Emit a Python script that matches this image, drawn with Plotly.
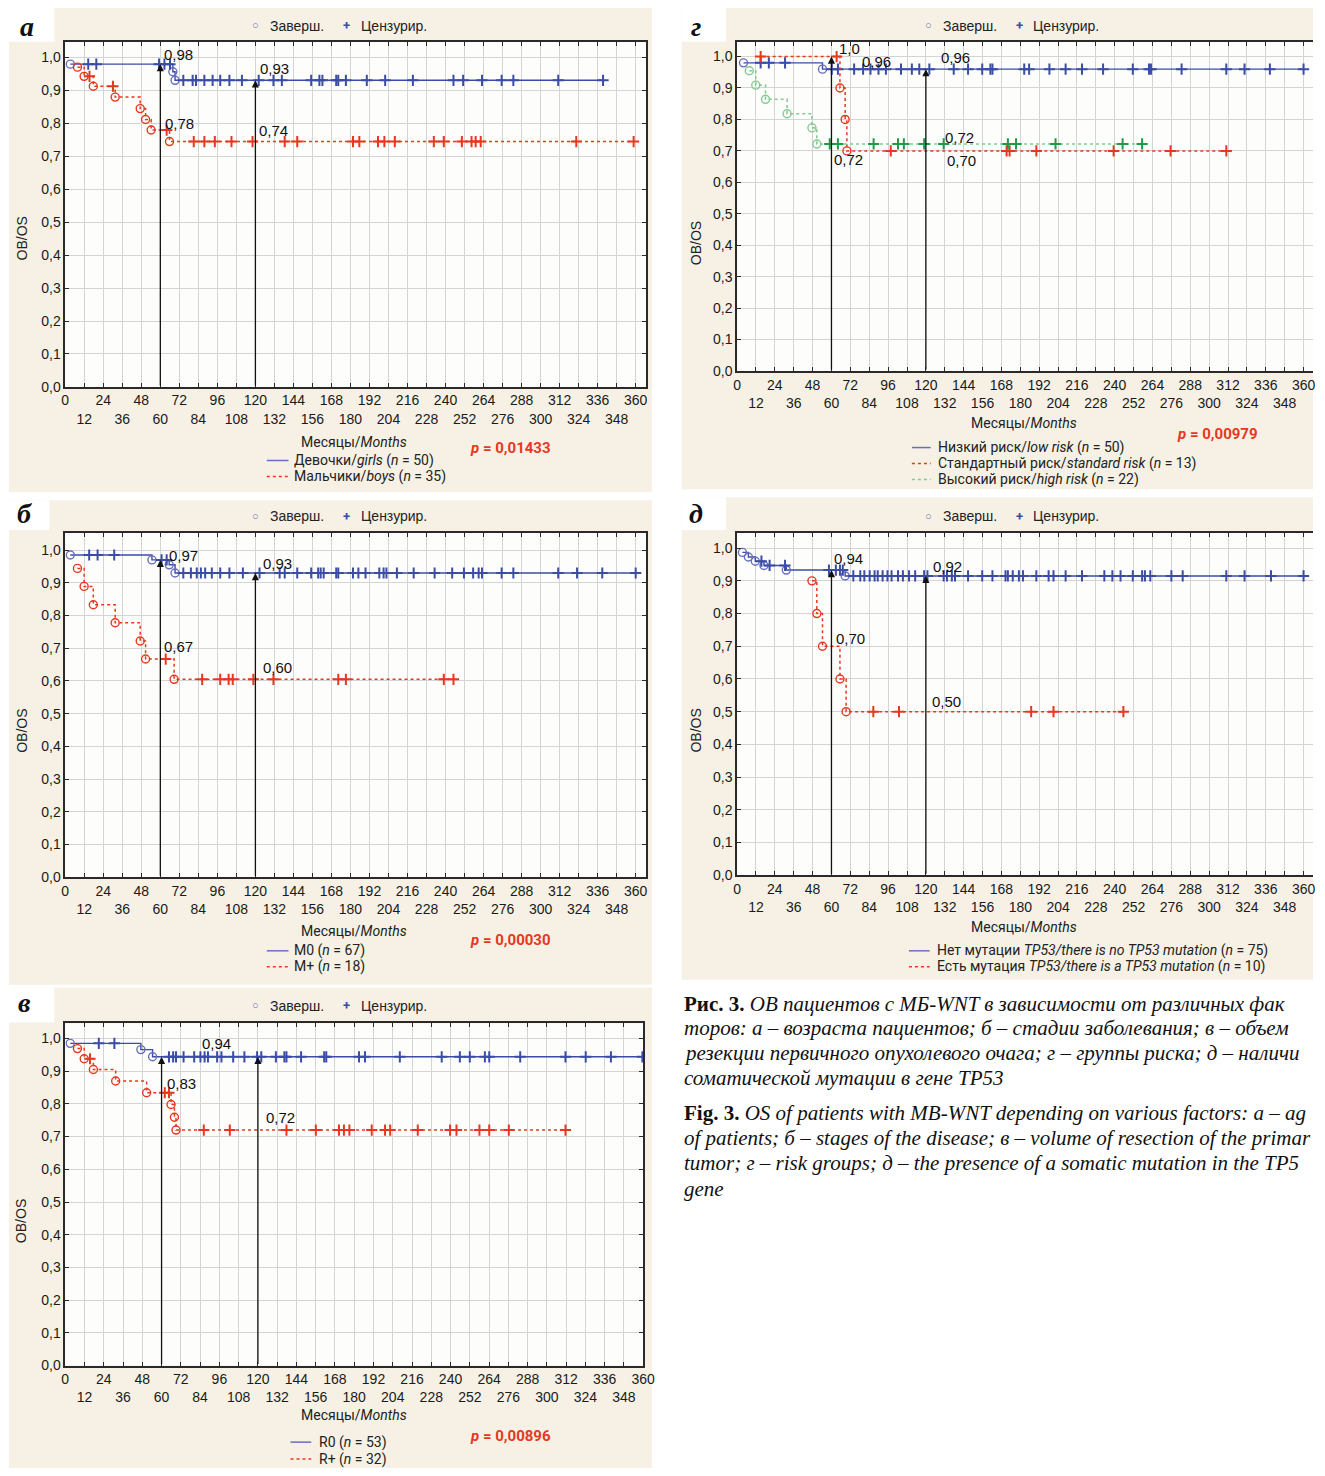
import plotly.graph_objects as go

W, H = 1325, 1476

# ================= DATA =================
months_ticks = list(range(0, 361, 12))
os_ticks = [i / 10 for i in range(11)]
os_tick_labels = ["0,0", "0,1", "0,2", "0,3", "0,4", "0,5", "0,6", "0,7", "0,8", "0,9", "1,0"]
arrow_months = [60, 120]

# --- а: sex ---
a_girls_ev_t = [3.2, 67.9, 69.3]
a_girls_ev_s = [0.98, 0.957, 0.931]
a_girls_cens = [14.5, 19.6, 59.2, 62.6, 66.1, 74.5, 80.4, 82.5, 87.8, 93.0, 97.8, 103.6, 111.5,
                122.1, 131.4, 136.7, 155.2, 160.4, 162.3, 171.0, 172.3, 177.1, 190.3, 201.9,
                219.4, 245.0, 251.1, 263.0, 275.4, 282.8, 311.1, 339.4]
a_boys_ev_t = [7.7, 11.9, 17.7, 31.5, 47.3, 50.7, 54.2, 65.8]
a_boys_ev_s = [0.971, 0.943, 0.913, 0.880, 0.845, 0.812, 0.780, 0.745]
a_boys_cens = [15.3, 30.1, 64.0, 81.1, 87.8, 94.4, 104.9, 118.2, 138.5, 146.4, 181.6, 185.6,
               197.4, 201.4, 208.0, 232.6, 238.9, 250.3, 256.4, 259.0, 262.2, 322.5, 358.7]
a_value_labels = ["0,98", "0,93", "0,78", "0,74"]
a_groups = ["Девочки/<i>girls</i> (<i>n</i> = 50)", "Мальчики/<i>boys</i> (<i>n</i> = 35)"]
a_p = "0,01433"

# --- б: stage ---
b_m0_ev_t = [3.2, 54.7, 65.6, 69.3]
b_m0_ev_s = [0.985, 0.97, 0.955, 0.93]
b_m0_cens = [15.1, 20.4, 30.9, 60.8, 64.0, 74.5, 79.3, 83.0, 85.6, 88.3, 92.5, 97.8, 103.6, 112.1,
             122.6, 135.3, 138.5, 146.4, 155.2, 159.6, 161.2, 163.1, 171.0, 172.3, 181.6, 185.0,
             189.5, 198.2, 200.9, 202.7, 209.3, 219.9, 233.1, 244.2, 251.6, 257.4, 260.9, 263.0,
             275.4, 282.8, 311.1, 323.0, 338.9, 360.0]
b_mp_ev_t = [7.7, 11.9, 17.7, 31.5, 47.3, 50.7, 68.7]
b_mp_ev_s = [0.944, 0.889, 0.833, 0.778, 0.722, 0.667, 0.605]
b_mp_cens = [63.4, 86.4, 97.8, 103.1, 105.7, 118.7, 131.4, 172.3, 177.1, 238.9, 245.0]
b_value_labels = ["0,97", "0,93", "0,67", "0,60"]
b_groups = ["M0 (<i>n</i> = 67)", "M+ (<i>n</i> = 18)"]
b_p = "0,00030"

# --- в: resection ---
v_r0_ev_t = [3.1, 47.1, 54.4]
v_r0_ev_s = [0.985, 0.966, 0.944]
v_r0_cens = [20.9, 30.6, 64.6, 67.2, 69.0, 73.7, 80.3, 84.2, 86.8, 88.9, 94.6, 97.3, 104.6, 111.6,
             119.5, 122.1, 131.2, 136.5, 137.8, 146.9, 161.3, 162.6, 183.0, 186.7, 208.4, 234.5,
             245.8, 252.0, 261.4, 264.1, 283.4, 311.6, 324.2, 339.9, 359.5]
v_rp_ev_t = [7.6, 11.8, 17.5, 31.4, 50.7, 65.9, 68.0, 69.0]
v_rp_ev_s = [0.969, 0.938, 0.905, 0.870, 0.834, 0.798, 0.759, 0.72]
v_rp_cens = [15.4, 62.0, 64.6, 86.3, 102.5, 137.8, 156.1, 170.5, 173.6, 177.0, 190.9, 199.2,
             202.4, 219.6, 239.7, 243.7, 258.0, 264.1, 276.3, 311.6]
v_value_labels = ["0,94", "0,83", "0,72"]
v_groups = ["R0 (<i>n</i> = 53)", "R+ (<i>n</i> = 32)"]
v_p = "0,00896"

# --- г: risk group ---
g_low_ev_t = [4.1, 54.3]
g_low_ev_s = [0.98, 0.96]
g_low_cens = [15.0, 20.2, 30.5, 60.2, 64.1, 74.4, 80.1, 84.8, 89.9, 94.6, 104.2, 111.1, 115.8,
              122.2, 137.7, 146.8, 155.8, 161.0, 162.3, 182.5, 185.6, 198.5, 208.8, 219.2, 232.6,
              251.5, 261.8, 263.1, 282.5, 310.9, 322.5, 338.6, 360.0]
g_std_ev_t = [65.4, 68.7, 69.8]
g_std_ev_s = [0.90, 0.80, 0.70]
g_std_cens = [15.0, 63.3, 97.7, 171.3, 173.2, 190.2, 239.3, 275.5, 310.9]
g_high_ev_t = [7.8, 11.9, 18.1, 31.8, 47.6, 50.7]
g_high_ev_s = [0.955, 0.909, 0.864, 0.818, 0.773, 0.722]
g_high_cens = [58.9, 64.1, 86.8, 102.3, 106.0, 118.9, 131.3, 172.1, 177.3, 202.4, 245.0, 257.4]
g_value_labels = ["1,0", "0,96", "0,96", "0,72", "0,70", "0,72"]
g_groups = ["Низкий риск/<i>low risk</i> (<i>n</i> = 50)",
            "Стандартный риск/<i>standard risk</i> (<i>n</i> = 13)",
            "Высокий риск/<i>high risk</i> (<i>n</i> = 22)"]
g_p = "0,00979"

# --- д: TP53 ---
d_no_ev_t = [3.4, 7.2, 11.6, 17.1, 31.3, 68.7]
d_no_ev_s = [0.987, 0.973, 0.96, 0.947, 0.933, 0.915]
d_no_cens = [15.5, 20.7, 30.5, 58.4, 62.8, 65.4, 67.2, 73.9, 78.3, 80.9, 84.3, 87.4, 89.4, 92.5,
             95.6, 98.2, 102.3, 105.4, 109.3, 113.2, 118.9, 121.0, 131.3, 133.4, 136.5, 138.5,
             146.8, 155.8, 162.3, 170.6, 172.1, 175.2, 179.1, 181.7, 190.2, 198.0, 201.1, 208.8,
             219.2, 233.4, 238.5, 243.7, 251.5, 257.4, 259.2, 262.6, 276.0, 283.2, 310.9, 322.5,
             339.3, 360.0]
d_yes_ev_t = [47.6, 50.7, 54.3, 65.4, 69.3]
d_yes_ev_s = [0.90, 0.80, 0.70, 0.60, 0.50]
d_yes_cens = [86.6, 102.9, 186.9, 201.1, 245.5]
d_value_labels = ["0,94", "0,92", "0,70", "0,50"]
d_groups = ["Нет мутации <i>TP53/there is no TP53 mutation</i> (<i>n</i> = 75)",
            "Есть мутация <i>TP53/there is a TP53 mutation</i> (<i>n</i> = 10)"]

# caption: text as visible in the (right-cropped) source picture
caption_ru = ["<b>Рис. 3.</b> <i>ОВ пациентов с МБ-WNT в зависимости от различных фак</i>",
              "<i>торов: а – возраста пациентов; б – стадии заболевания; в – объем</i>",
              "<i>резекции первичного опухолевого очага; г – группы риска; д – наличи</i>",
              "<i>соматической мутации в гене TP53</i>"]
caption_en = ["<b>Fig. 3.</b> <i>OS of patients with MB-WNT depending on various factors: a – ag</i>",
              "<i>of patients; б – stages of the disease; в – volume of resection of the primar</i>",
              "<i>tumor; г – risk groups; д – the presence of a somatic mutation in the TP5</i>",
              "<i>gene</i>"]

# ================= STYLES =================
NARROW = "Liberation Sans Narrow, Arial Narrow, Liberation Sans, Arial, sans-serif"
SANS = "Roboto, Liberation Sans, Arial, sans-serif"
SERIF = "Liberation Serif, Times New Roman, serif"
BLUE, BLUE_C = "#3b4ca6", "#6a6ec0"
RED = "#e6381f"
GREEN_L, GREEN_M = "#86c993", "#1f9a48"
STY = {
    "blue": dict(line=dict(color=BLUE, width=1.4), ev=BLUE_C, ce=BLUE, legdash="solid", legcol=BLUE_C),
    "red": dict(line=dict(color=RED, width=1.5, dash="dot"), ev=RED, ce=RED, legdash="dot", legcol=RED),
    "green": dict(line=dict(color=GREEN_L, width=1.6, dash="dot"), ev=GREEN_L, ce=GREEN_M, legdash="dot", legcol=GREEN_L),
}


def surv(ev_t, ev_s, t):
    s = 1.0
    for et, es in zip(ev_t, ev_s):
        if et <= t:
            s = es
    return s


def px(x):
    return x / W


def py(y):
    return 1 - y / H


panels = [
    dict(ax="", dom_x=(62, 650), dom_y=(389, 42), xr=366.6, yr=1.048,
         series=[(a_girls_ev_t, a_girls_ev_s, a_girls_cens, "blue"), (a_boys_ev_t, a_boys_ev_s, a_boys_cens, "red")],
         labels=a_value_labels, label_pos=[(61, 1.01), (121.5, 0.967), (62, 0.80), (121, 0.779)],
         groups=a_groups, leg=dict(x0=266, x1=288, y=[463, 479], tx=292),
         p=a_p, p_pos=(513, 450), xt=(354, 444), yt=(18, 240), top=(26,), tag="а", tag_pos=(23, 27),
         bg=(5, 656, 8, 495), notch=(51, 42), mirror_y="ticks"),
    dict(ax="2", dom_x=(62, 650), dom_y=(882, 536), xr=366.6, yr=1.052,
         series=[(b_m0_ev_t, b_m0_ev_s, b_m0_cens, "blue"), (b_mp_ev_t, b_mp_ev_s, b_mp_cens, "red")],
         labels=b_value_labels, label_pos=[(64.2, 0.985), (123.4, 0.96), (61, 0.705), (123.4, 0.641)],
         groups=b_groups, leg=dict(x0=266, x1=288, y=[956, 972], tx=292),
         p=b_p, p_pos=(513, 945), xt=(354, 936), yt=(18, 735), top=(519,), tag="б", tag_pos=(21, 516),
         bg=(5, 656, 503, 990), notch=(46, 533), mirror_y="ticks"),
    dict(ax="3", dom_x=(62, 647), dom_y=(1373, 1029), xr=360, yr=1.046,
         series=[(v_r0_ev_t, v_r0_ev_s, v_r0_cens, "blue"), (v_rp_ev_t, v_rp_ev_s, v_rp_cens, "red")],
         labels=v_value_labels, label_pos=[(83.7, 0.985), (62.2, 0.863), (123.7, 0.757)],
         groups=v_groups, leg=dict(x0=290, x1=311, y=[1450, 1467], tx=317),
         p=v_p, p_pos=(513, 1444), xt=(354, 1423), yt=(18, 1228), top=(1011,), tag="в", tag_pos=(21, 1008),
         bg=(5, 656, 993, 1476), notch=(51, 1028), mirror_y="ticks"),
    dict(ax="4", dom_x=(742, 1325), dom_y=(373, 42), xr=366, yr=1.047,
         series=[(g_low_ev_t, g_low_ev_s, g_low_cens, "blue"), (g_std_ev_t, g_std_ev_s, g_std_cens, "red"),
                 (g_high_ev_t, g_high_ev_s, g_high_cens, "green")],
         labels=g_value_labels,
         label_pos=[(63.4, 1.025), (77.9, 0.984), (128.1, 0.997), (130.6, 0.741), (131.9, 0.668), (60.3, 0.671)],
         groups=g_groups, leg=dict(x0=919, x1=938, y=[450, 466, 482], tx=943),
         p=g_p, p_pos=(1228, 436), xt=(1032, 425), yt=(700, 245), top=(26,), tag="г", tag_pos=(700, 27),
         bg=(686, 1325, 8, 492), notch=(731, 42), mirror_y=False),
    dict(ax="5", dom_x=(742, 1325), dom_y=(880, 536), xr=366, yr=1.046,
         series=[(d_no_ev_t, d_no_ev_s, d_no_cens, "blue"), (d_yes_ev_t, d_yes_ev_s, d_yes_cens, "red")],
         labels=d_value_labels, label_pos=[(60.3, 0.967), (123.1, 0.945), (61.5, 0.723), (122.4, 0.532)],
         groups=d_groups, leg=dict(x0=916, x1=937, y=[956, 972], tx=942),
         p=None, p_pos=None, xt=(1032, 932), yt=(700, 735), top=(519,), tag="д", tag_pos=(700, 516),
         bg=(686, 1325, 500, 985), notch=(731, 533), mirror_y=False),
]

fig = go.Figure()
annotations = []
shapes = []
layout_axes = {}

tick_text = [str(v) if (v // 12) % 2 == 0 else "<br>" + str(v) for v in months_ticks]

for P in panels:
    xa, ya = "x" + P["ax"], "y" + P["ax"]
    xl, yl = "xaxis" + P["ax"], "yaxis" + P["ax"]
    # background of panel
    x0, x1, y0, y1 = P["bg"]
    shapes.append(dict(type="rect", xref="paper", yref="paper", x0=px(x0), x1=px(x1), y0=py(y1), y1=py(y0),
                       fillcolor="#f6f1e4", line=dict(width=0), layer="below"))
    shapes.append(dict(type="rect", xref="paper", yref="paper", x0=px(x0), x1=px(P["notch"][0]),
                       y0=py(P["notch"][1]), y1=py(y0), fillcolor="white", line=dict(width=0), layer="below"))
    # plot area background
    shapes.append(dict(type="rect", xref="paper", yref="paper", x0=px(P["dom_x"][0]),
                       x1=min(1.0, px(P["dom_x"][1])), y0=py(P["dom_y"][0]), y1=py(P["dom_y"][1]),
                       fillcolor="#fdfdfb", line=dict(width=0), layer="below"))

    layout_axes[xl] = dict(domain=[px(P["dom_x"][0]), min(1.0, px(P["dom_x"][1]))], anchor=ya,
                           range=[0, P["xr"]], tickvals=months_ticks, ticktext=tick_text,
                           showgrid=True, gridcolor="#d4d4d4", gridwidth=1, zeroline=False,
                           showline=True, linecolor="#2a2a2a", linewidth=1.5, mirror="ticks",
                           ticks="inside", ticklen=4, tickcolor="#2a2a2a",
                           tickfont=dict(family=NARROW, size=14, color="#1a1a1a"), tickangle=0)
    layout_axes[yl] = dict(domain=[py(P["dom_y"][0]), py(P["dom_y"][1])], anchor=xa,
                           range=[0, P["yr"]], tickvals=os_ticks, ticktext=os_tick_labels,
                           showgrid=True, gridcolor="#d4d4d4", gridwidth=1, zeroline=False,
                           showline=True, linecolor="#2a2a2a", linewidth=1.5, mirror=P["mirror_y"],
                           ticks="inside", ticklen=4, tickcolor="#2a2a2a",
                           tickfont=dict(family=NARROW, size=14, color="#1a1a1a"))

    # KM curves
    for ev_t, ev_s, cens, key in P["series"]:
        st = STY[key]
        t0 = min(ev_t[0], cens[0])
        t_end = max(ev_t[-1], cens[-1])
        xs = [t0] + [t for t in ev_t if t > t0] + [t_end]
        ys = [surv(ev_t, ev_s, t0)] + [s for t, s in zip(ev_t, ev_s) if t > t0] + [surv(ev_t, ev_s, t_end)]
        fig.add_trace(go.Scatter(x=xs, y=ys, mode="lines", line=dict(shape="hv", **st["line"]),
                                 xaxis=xa, yaxis=ya, hoverinfo="skip"))
        fig.add_trace(go.Scatter(x=ev_t, y=ev_s, mode="markers", xaxis=xa, yaxis=ya,
                                 marker=dict(symbol="circle-open", size=8, color=st["ev"], line=dict(width=1.4))))
        fig.add_trace(go.Scatter(x=cens, y=[surv(ev_t, ev_s, c) for c in cens], mode="markers",
                                 xaxis=xa, yaxis=ya,
                                 marker=dict(symbol="cross-thin", size=8, color=st["ce"],
                                             line=dict(width=2, color=st["ce"]))))

    # arrows at 5 and 10 years
    for am in arrow_months:
        tip = max(surv(s[0], s[1], am) for s in P["series"])
        annotations.append(dict(x=am, y=tip, ax=am, ay=0, xref=xa, yref=ya, axref=xa, ayref=ya,
                                showarrow=True, arrowhead=2, arrowsize=1.1, arrowwidth=1.3,
                                arrowcolor="#111111", text="", standoff=0))
    # value labels
    for txt, (lx, ly) in zip(P["labels"], P["label_pos"]):
        annotations.append(dict(x=lx, y=ly, xref=xa, yref=ya, text=txt, showarrow=False,
                                xanchor="left", yanchor="middle",
                                font=dict(family=NARROW, size=15, color="#111111")))

    # top legend (markers)
    ty = P["top"][0]
    cx = 1020 if P["ax"] in ("4", "5") else 339
    annotations.append(dict(x=px(cx - 84), y=py(ty), xref="paper", yref="paper", showarrow=False,
                            text="○", xanchor="center", yanchor="middle",
                            font=dict(family=SANS, size=11, color=BLUE_C)))
    annotations.append(dict(x=px(cx - 72), y=py(ty), xref="paper", yref="paper", showarrow=False,
                            text="Заверш.", xanchor="left", yanchor="middle",
                            font=dict(family=NARROW, size=14, color="#222222")))
    annotations.append(dict(x=px(cx + 8), y=py(ty), xref="paper", yref="paper", showarrow=False,
                            text="<b>+</b>", xanchor="center", yanchor="middle",
                            font=dict(family=SANS, size=13, color=BLUE)))
    annotations.append(dict(x=px(cx + 20), y=py(ty), xref="paper", yref="paper", showarrow=False,
                            text="Цензурир.", xanchor="left", yanchor="middle",
                            font=dict(family=NARROW, size=14, color="#222222")))

    # axis titles
    annotations.append(dict(x=px(P["xt"][0]), y=py(P["xt"][1]), xref="paper", yref="paper", showarrow=False,
                            text="Месяцы/<i>Months</i>", xanchor="center", yanchor="middle",
                            font=dict(family=SANS, size=14, color="#222222")))
    annotations.append(dict(x=px(P["yt"][0]), y=py(P["yt"][1]), xref="paper", yref="paper", showarrow=False,
                            text="ОВ/OS", textangle=-90, xanchor="center", yanchor="middle",
                            font=dict(family=NARROW, size=14, color="#222222")))
    # p-value
    if P["p"]:
        annotations.append(dict(x=px(P["p_pos"][0]), y=py(P["p_pos"][1]), xref="paper", yref="paper",
                                showarrow=False, text="<b><i>p</i> = " + P["p"] + "</b>",
                                xanchor="center", yanchor="middle",
                                font=dict(family=SANS, size=15, color=RED)))
    # bottom legend
    L = P["leg"]
    for (ev_t, ev_s, cens, key), gtxt, ly in zip(P["series"], P["groups"], L["y"]):
        st = STY[key]
        shapes.append(dict(type="line", xref="paper", yref="paper", x0=px(L["x0"]), x1=px(L["x1"]),
                           y0=py(ly), y1=py(ly), line=dict(color=st["legcol"], width=1.5, dash=st["legdash"])))
        annotations.append(dict(x=px(L["tx"]), y=py(ly), xref="paper", yref="paper", showarrow=False,
                                text=gtxt, xanchor="left", yanchor="middle",
                                font=dict(family=SANS, size=14, color="#222222")))
    # panel tag
    annotations.append(dict(x=px(P["tag_pos"][0]), y=py(P["tag_pos"][1]), xref="paper", yref="paper",
                            showarrow=False, text="<b><i>" + P["tag"] + "</i></b>",
                            xanchor="center", yanchor="middle",
                            font=dict(family=SERIF, size=28, color="#111111")))

# caption
cap_y = [1009, 1034, 1059, 1084]
for txt, yy in zip(caption_ru, cap_y):
    annotations.append(dict(x=px(686), y=py(yy), xref="paper", yref="paper", showarrow=False,
                            text=txt, xanchor="left", yanchor="middle",
                            font=dict(family=SERIF, size=21, color="#111111")))
cap_y2 = [1119, 1144, 1169, 1195]
for txt, yy in zip(caption_en, cap_y2):
    annotations.append(dict(x=px(686), y=py(yy), xref="paper", yref="paper", showarrow=False,
                            text=txt, xanchor="left", yanchor="middle",
                            font=dict(family=SERIF, size=21, color="#111111")))

fig.update_layout(width=W, height=H, margin=dict(l=0, r=0, t=0, b=0), showlegend=False,
                  paper_bgcolor="white", plot_bgcolor="#fdfdfb",
                  annotations=annotations, shapes=shapes, **layout_axes)

fig.write_html("out.html")
